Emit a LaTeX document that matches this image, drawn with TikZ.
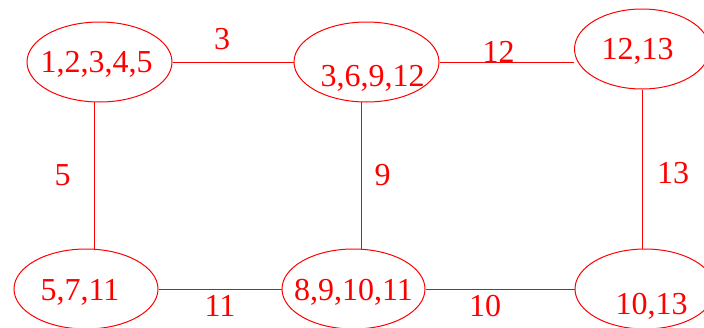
\documentclass[tikz,border=0pt]{standalone}
\usepackage{fontspec}
\setmainfont{Liberation Serif}
\usetikzlibrary{shapes.geometric}

\begin{document}
\begin{tikzpicture}[
  x=1pt, y=-1pt,
  every node/.style={text=red, font=\fontsize{32}{38}\selectfont},
  clique/.style={ellipse, draw=red, line width=1pt, minimum height=80pt, inner sep=0},
  link/.style={draw=red, line width=1pt},
]
\useasboundingbox (0,0) rectangle (704,327);
\clip (0,0) rectangle (704,327);

% Top row
\node[clique, minimum width=145pt, label={[shift={(-3pt,-2pt)}]center:1,2,3,4,5}] (c1) at (99.5,62) {};
\node[clique, minimum width=145pt, label={[shift={(6pt,-16pt)}]center:3,6,9,12}] (c2) at (366.5,62) {};
\node[clique, minimum width=135pt, label={[shift={(-4.5pt,-2pt)}]center:12,13}] (c3) at (642,49) {};

% Bottom row
\node[clique, minimum width=144pt, label={[shift={(-6pt,-3pt)}]center:5,7,11}] (c4) at (86,289) {};
\node[clique, minimum width=143pt, label={[shift={(0pt,-3pt)}]center:8,9,10,11}] (c5) at (353.5,289) {};
\node[clique, minimum width=140pt, label={[shift={(6.5pt,-17pt)}]center:10,13}] (c6) at (645,289) {};

% Horizontal links
\draw[link] (c1) -- (c2) node[pos=0.41, yshift=23pt] {3};
\draw[link] (c2.east) -- (c2.east -| c3.west) node[pos=0.44, yshift=10pt] {12};
\draw[link] (c4) -- (c5) node[midway, yshift=-17pt] {11};
\draw[link] (c5) -- (c6) node[pos=0.4, yshift=-17pt] {10};

% Vertical links
\draw[link] (c1.263) -- (c1.263 |- c4.north) node[midway, xshift=-32pt] {5};
\draw[link] (c2.263) -- (c2.263 |- c5.north) node[midway, xshift=21pt] {9};
\draw[link] (c3.south) -- (c3.south |- c6.north) node[pos=0.525, xshift=31pt] {13};

\end{tikzpicture}
\end{document}
